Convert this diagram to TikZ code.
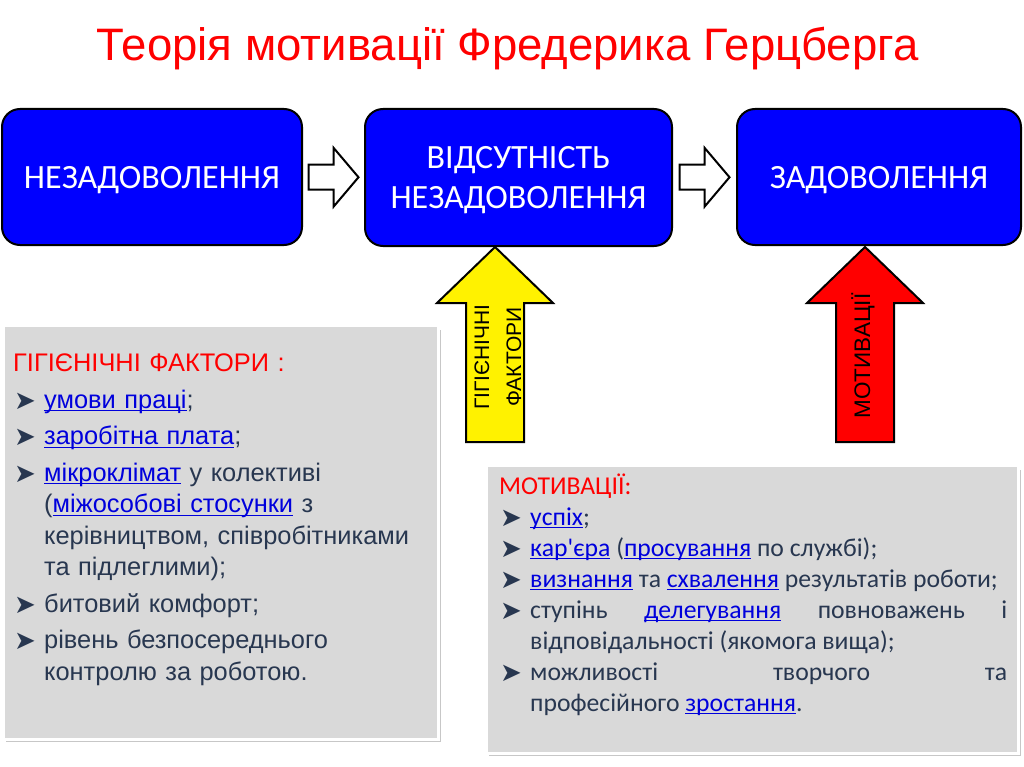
\documentclass[tikz,border=0pt]{standalone}
\usepackage{fontspec}
\setmainfont{Liberation Sans}
\newfontfamily\calibri{Carlito}
\newfontfamily\dejavu{DejaVu Sans}
\usetikzlibrary{calc}
\definecolor{boxblue}{RGB}{0,0,255}
\definecolor{titlered}{RGB}{255,0,0}
\definecolor{panelgrey}{RGB}{217,217,217}
\definecolor{listtext}{RGB}{40,55,80}
\definecolor{linkblue}{RGB}{0,0,220}
\newcommand{\lnk}[1]{{\color{linkblue}\setbox0=\hbox{#1}\rlap{\rule[-3pt]{\wd0}{1.3pt}}\box0}}
\newcommand{\bul}{{\dejavu\fontsize{26}{26}\selectfont\raisebox{-1pt}{➤}}}
\newcommand{\itm}{\par\hangindent=31pt\hangafter=1\noindent\hbox to 31pt{\kern1pt\bul\hfil}}
\tikzset{
  stage/.style={draw=black, line width=2pt, fill=boxblue, rounded corners=18pt, text=white,
    font=\calibri\fontsize{34}{40}\selectfont, align=center, inner sep=0pt, text depth=0pt},
  hollow/.style={draw=black, line width=2pt, fill=white, line join=miter},
  listbox/.style={anchor=north west, inner sep=0pt, text=listtext,
    execute at begin node={\setlength{\parindent}{0pt}}},
  pics/blockarrow/.style={code={
    \draw[hollow] (-25,-12.5) -- (0,-12.5) -- (0,-29.5) -- (25,0) -- (0,29.5) -- (0,12.5) -- (-25,12.5) -- cycle;}},
  pics/factorarrow/.style={code={
    \draw[line width=2pt, fill=#1] (0,0) -- (58,56) -- (29,56) -- (29,195) -- (-29,195) -- (-29,56) -- (-58,56) -- cycle;}}
}
\begin{document}
\begin{tikzpicture}[x=1pt, y=-1pt]
\useasboundingbox[fill=white] (0,0) rectangle (1024,767);

% title
\node[anchor=base, font=\fontsize{45.5}{45.5}\selectfont, text=titlered] (title) at (507.5,61) {Теорія мотивації Фредерика Герцберга};

% stages
\node[stage, minimum width=300pt, minimum height=136pt] (dissat) at (152,177) {НЕЗАДОВОЛЕННЯ};
\node[stage, minimum width=307pt, minimum height=137pt] (nodissat) at (518.5,177.5) {ВІДСУТНІСТЬ\\НЕЗАДОВОЛЕННЯ};
\node[stage, minimum width=284pt, minimum height=136pt] (sat) at (879,177) {ЗАДОВОЛЕННЯ};
\path ($(dissat.east)!0.5!(nodissat.west)$) coordinate (step1);
\path ($(nodissat.east)!0.5!(sat.west)$) coordinate (step2);
\foreach \m in {step1, step2} {
  \pic at (\m) {blockarrow};
}

% factor arrows
\pic at (495,247) {factorarrow=yellow};
\pic at (865,247) {factorarrow=red};
\node[rotate=90, font=\fontsize{21}{32}\selectfont, align=center] (hyglabel) at (498,357) {ГІГІЄНІЧНІ\\ФАКТОРИ};
\node[rotate=90, font=\fontsize{22.5}{22.5}\selectfont] (motlabel) at (863,356) {МОТИВАЦІЇ};

% panels
\foreach \xa/\ya/\xb/\yb in {5/327/437/738, 488/467/1017/752} {
  \fill[black!22] (\xa+1,\ya+3) rectangle (\xb+4,\yb+4);
  \fill[white] (\xa-3,\ya-3) rectangle (\xb+3,\yb+3);
  \fill[panelgrey] (\xa,\ya) rectangle (\xb,\yb);
}

\node[listbox, text width=414pt, align=left, font=\fontsize{25.4}{31.5}\selectfont,
  execute at begin node={\setlength{\parskip}{5pt}}] (hyglist) at (13,354) {%
  {\color{titlered}ГІГІЄНІЧНІ ФАКТОРИ :}
  \itm \lnk{умови праці};
  \itm \lnk{заробітна плата};
  \itm \lnk{мікроклімат} у колективі\newline(\lnk{міжособові стосунки} з\newline керівництвом, співробітниками\newline та підлеглими);
  \itm битовий комфорт;
  \itm рівень безпосереднього\newline контролю за роботою.\par};

\node[listbox, text width=508pt, align=justify, font=\calibri\fontsize{25.7}{31}\selectfont,
  execute at begin node={\setlength{\parskip}{0pt}}] (motlist) at (499,473.5) {%
  {\color{titlered}МОТИВАЦІЇ:}
  \itm \lnk{успіх};
  \itm \lnk{кар'єра} (\lnk{просування} по службі);
  \itm \lnk{визнання} та \lnk{схвалення} результатів роботи;
  \itm ступінь \lnk{делегування} повноважень і\linebreak відповідальності (якомога вища);
  \itm можливості творчого та\linebreak професійного \lnk{зростання}.\par};
\end{tikzpicture}
\end{document}
